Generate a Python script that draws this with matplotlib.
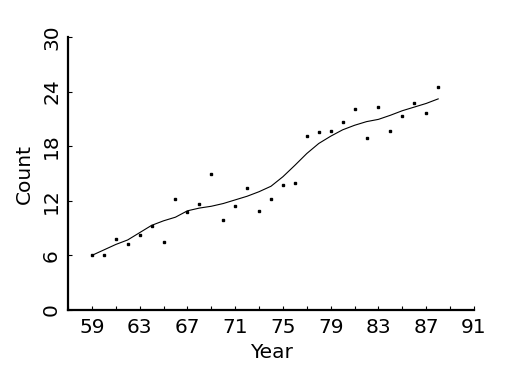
import matplotlib
matplotlib.use("Agg")
import matplotlib.pyplot as plt

years = list(range(59, 89))
counts = [6.0, 6.0, 7.8, 7.3, 8.2, 9.2, 7.5, 12.2, 10.8, 11.7,
          14.9, 9.9, 11.4, 13.4, 10.85, 12.2, 13.7, 13.95, 19.1, 19.6,
          19.65, 20.65, 22.1, 18.9, 22.3, 19.7, 21.3, 22.75, 21.7, 24.5]
smooth = [6.0, 6.6, 7.2, 7.7, 8.5, 9.3, 9.8, 10.2, 10.9, 11.2,
          11.4, 11.7, 12.1, 12.5, 13.0, 13.6, 14.65, 15.9, 17.2, 18.3,
          19.1, 19.8, 20.3, 20.7, 20.95, 21.4, 21.9, 22.3, 22.7, 23.2]
xticks = [59, 63, 67, 71, 75, 79, 83, 87, 91]
yticks = [0, 6, 12, 18, 24, 30]

plt.rcParams['font.family'] = ['DejaVu Sans']
fig = plt.figure(figsize=(5.25, 3.75), dpi=100)
ax = fig.add_axes([68/525, 65/375, 406/525, 273/375])

ax.plot(years, smooth, color='black', linewidth=0.8)
ax.plot(years, counts, linestyle='none', marker='s', markersize=1.8,
        color='black')

ax.set_xlim(57, 91)
ax.set_ylim(0, 30)
ax.set_xticks(xticks)
ax.set_xticks(list(range(57, 92, 2)), minor=True)
ax.set_yticks(yticks)
ax.set_xticklabels([str(v) for v in xticks])
ax.set_yticklabels([str(v) for v in yticks], rotation=90, va='center')

for s in ['top', 'right']:
    ax.spines[s].set_visible(False)
for s in ['left', 'bottom']:
    ax.spines[s].set_linewidth(1.6)

ax.tick_params(axis='both', which='both', direction='in', length=3,
               width=0.8, labelsize=14.5, colors='black')
ax.tick_params(axis='x', which='major', pad=6)
ax.tick_params(axis='y', which='major', pad=5)

ax.set_xlabel('Year', fontsize=14.5, labelpad=4)
ax.set_ylabel('Count', fontsize=14.5, labelpad=6)

fig.savefig('out.png', dpi=100)
